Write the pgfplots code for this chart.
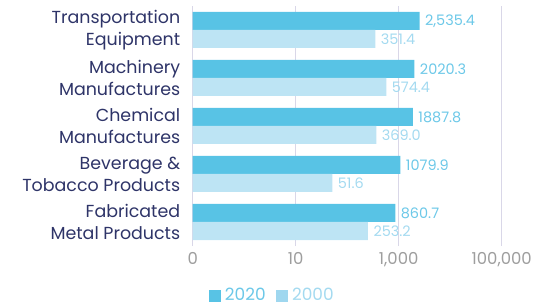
\documentclass[border=0pt]{standalone}
\usepackage{pgfplots}
\pgfplotsset{compat=1.18}
\usepackage{pgfplotstable}
\usepackage{fontspec}
\setmainfont{Poppins}
\definecolor{darkbar}{HTML}{58C3E5}
\definecolor{lightbar}{HTML}{BDE4F4}
\definecolor{darklab}{HTML}{6CC8E8}
\definecolor{lightlab}{HTML}{A4DAF0}
\definecolor{legendlight}{HTML}{9FD7EF}
\definecolor{navy}{HTML}{2E3468}
\definecolor{gridc}{HTML}{D9D7E8}
\definecolor{tickc}{HTML}{9E9E9E}
\pgfplotstableread{
x y label
2535.4 4.1875 {2,535.4}
2020.3 3.1875 2020.3
1887.8 2.1875 1887.8
1079.9 1.1875 1079.9
860.7 0.1875 860.7
}\dataA
\pgfplotstableread{
x y label
351.4 3.8125 351.4
574.4 2.8125 574.4
369.0 1.8125 369.0
51.6 0.8125 51.6
253.2 -0.1875 253.2
}\dataB
\begin{document}
\begin{tikzpicture}
\path[use as bounding box] (0,0) rectangle (540bp,307bp);
\begin{axis}[
  at={(192.7bp,61bp)}, anchor=south west,
  scale only axis, width=309bp, height=240bp,
  xmode=log, xmin=0.1, xmax=100000, log origin=infty,
  ymin=-0.5, ymax=4.5,
  clip=false,
  axis line style={draw=none},
  xtick={0.1,10,1000,100000},
  xticklabels={0,10,{1,000},{100,000}},
  ytick={0,1,2,3,4},
  yticklabels={{Fabricated\\Metal Products},{Beverage \&\\Tobacco Products},{Chemical\\Manufactures},{Machinery\\Manufactures},{Transportation\\Equipment}},
  major tick length=0pt,
  xmajorgrids, ymajorgrids=false,
  major grid style={draw=gridc, line width=1.2bp},
  xticklabel style={font=\fontsize{16.5}{19}\selectfont, text=tickc, yshift=-3bp},
  yticklabel style={font=\fontsize{17.5}{22}\selectfont, text=navy, align=right, xshift=-9bp},
  /pgf/number format/assume math mode=true,
  xbar, bar width=18bp, bar shift=0pt,
  point meta=explicit symbolic,
  nodes near coords,
  nodes near coords style={anchor=west, xshift=2bp, font=\fontsize{14.5}{17}\selectfont},
  legend style={at={(axis description cs:0.257,-0.206)}, anchor=center, draw=none, fill=none,
    legend columns=2, font=\fontsize{17}{20}\selectfont,
    /tikz/every odd column/.append style={column sep=3bp},
    /tikz/every even column/.append style={column sep=8bp}},
]
\addlegendimage{legend image code/.code={\fill[darkbar] (0bp,-5.5bp) rectangle (11bp,5.5bp);}}
\addlegendentry{\textcolor{darklab}{2020}}
\addlegendimage{legend image code/.code={\fill[legendlight] (0bp,-5.5bp) rectangle (11bp,5.5bp);}}
\addlegendentry{\textcolor{lightlab}{2000}}
\addplot[fill=darkbar, draw=none, forget plot, nodes near coords style={text=darklab}] table[x=x, y=y, meta=label] {\dataA};
\addplot[fill=lightbar, draw=none, forget plot, nodes near coords style={text=lightlab}] table[x=x, y=y, meta=label] {\dataB};
\end{axis}
\end{tikzpicture}
\end{document}
